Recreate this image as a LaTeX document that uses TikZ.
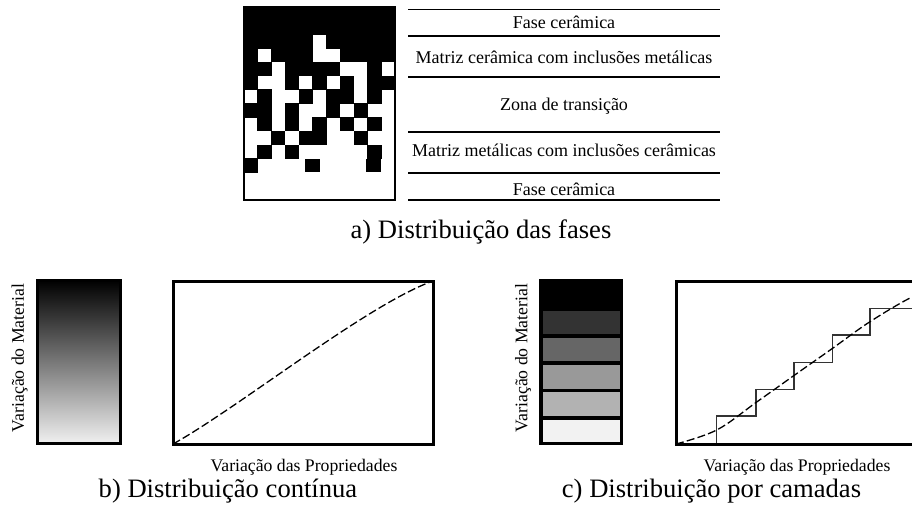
\documentclass[tikz,border=0pt]{standalone}
\usepackage{fontspec}
\setmainfont{Liberation Serif}
\begin{document}
\begin{tikzpicture}[x=0.5pt,y=-0.5pt,
  lbl/.style={font=\fontsize{9}{10}\selectfont, inner sep=0pt, anchor=base},
  captxt/.style={font=\fontsize{13.3}{15}\selectfont, inner sep=0pt, anchor=base},
  axlbl/.style={font=\fontsize{8.85}{10}\selectfont, inner sep=0pt},
  sepline/.style={line width=0.75pt},
  frame/.style={line width=1.5pt},
  dcurve/.style={line width=0.65pt, dash pattern=on 4pt off 1.6pt},
  stair/.style={line width=0.65pt, draw=black!80}]
\useasboundingbox (0,0) rectangle (912,510);
\clip (0,0) rectangle (912,510);

% ---------- a) phase distribution block ----------
\fill[black] (244,7) rectangle (395,{7+2*13.786});
\foreach \r/\row in {
  2/{1,1,1,1,1,0,1,1,1,1,1},
  3/{1,0,1,1,1,0,0,1,1,1,1},
  4/{1,1,0,1,1,1,1,0,0,1,0},
  5/{1,0,0,1,0,1,0,1,0,1,1},
  6/{0,1,0,0,1,0,1,1,0,1,0},
  7/{1,1,0,1,0,0,1,0,1,0,0},
  8/{0,1,0,1,0,1,0,1,0,1,0},
  9/{0,0,1,0,1,1,0,0,1,0,0},
  10/{0,1,0,1,0,0,0,0,0,1,0},
  11/{1,0,0,0,0,0,0,0,0,0,0}}{
  \foreach \v [count=\c from 0] in \row {
    \ifnum\v=1
      \fill[black] ({244+\c*13.727-0.3},{7+\r*13.786-0.3}) rectangle ({244+(\c+1)*13.727+0.3},{7+(\r+1)*13.786+0.3});
    \fi
  }
}
\fill[black] (304.7,158.7) rectangle (320,172.3);
\fill[black] (365.5,158.7) rectangle (380.5,172.3);
\draw[line width=0.8pt] (244,7) rectangle (395,200);

\foreach \y in {9.3,36,77,132,173,200} \draw[sepline] (408,\y) -- (720,\y);
\node[lbl] (t1) at (564,28.3) {Fase cerâmica};
\node[lbl] (t2) at (564,63.3) {Matriz cerâmica com inclusões metálicas};
\node[lbl] (t3) at (564,110) {Zona de transição};
\node[lbl] (t4) at (564,156.7) {Matriz metálicas com inclusões cerâmicas};
\node[lbl] (t5) at (564,195) {Fase cerâmica};
\node[captxt] (capa) at (481,238) {a) Distribuição das fases};

% ---------- b) continuous ----------
\shade[top color=black, bottom color=black!6] (37,280) rectangle (120,443);
\draw[frame] (37,280) rectangle (120,443);
\node[axlbl, rotate=90] (matb) at (19.5,358) {Variação do Material};
\draw[frame] (173,281) rectangle (433,444);
\draw[dcurve] (173,444) .. controls (238,408) and (368,304) .. (433,281);
\node[axlbl, anchor=base] (propb) at (304,471) {Variação das Propriedades};
\node[captxt] (capb) at (228,497) {b) Distribuição contínua};

% ---------- c) layered ----------
\fill[black] (539,279) rectangle (623,445);
\fill[black!80] (543,310.5) rectangle (620,334);
\fill[black!60] (543,337.8) rectangle (620,361.3);
\fill[black!40] (543,365.1) rectangle (620,388.6);
\fill[black!30] (543,392.4) rectangle (620,415.9);
\fill[black!5] (543,419.7) rectangle (620,442);
\node[axlbl, rotate=90] (matc) at (523,358) {Variação do Material};
\draw[stair] (716.7,444) |- (756,416) |- (794,389.3) |- (832.3,362.3) |- (870,335) |- (940,308.3);
\draw[dcurve] plot[smooth, tension=0.6] coordinates {(676,444) (716.7,430) (756,402.5) (794,375.5) (832.3,348.5) (870,321.7) (912,297) (940,287)};
\draw[frame] (676,281) rectangle (940,444);
\node[axlbl, anchor=base] (propc) at (797,471) {Variação das Propriedades};
\node[captxt] (capc) at (711.5,497) {c) Distribuição por camadas};
\end{tikzpicture}
\end{document}
